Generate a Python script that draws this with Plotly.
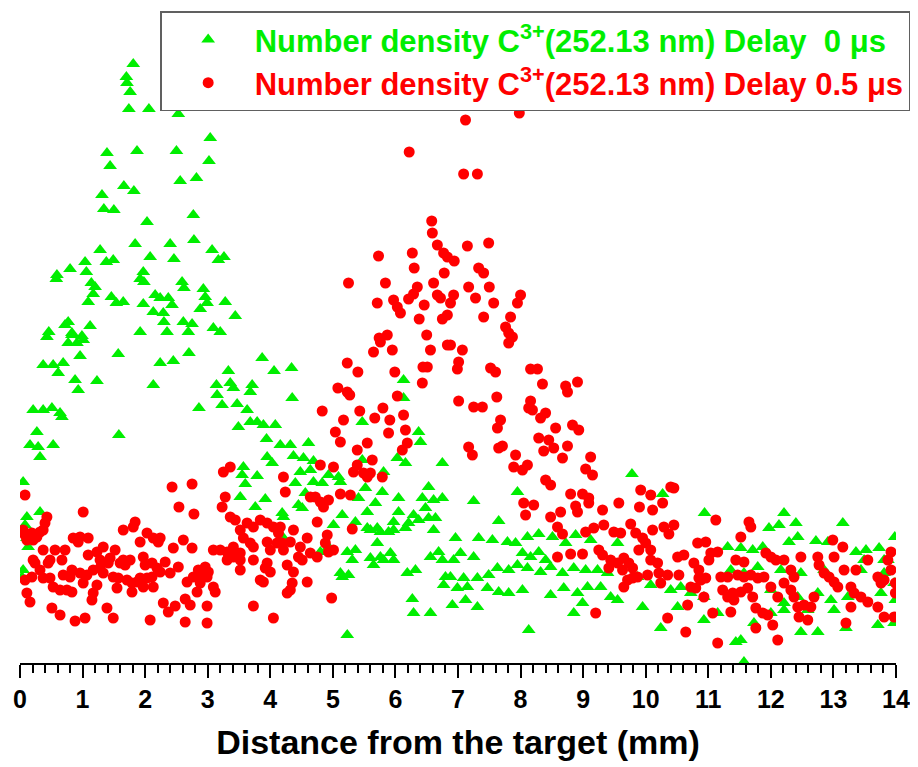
import plotly.graph_objects as go

# Distance from the target (mm) and number density (arb. units)
green_x = [1.81,1.70,1.71,1.76,1.74,2.06,2.53,3.04,1.39,1.87,2.50,3.02,1.44,2.56,2.82,1.66,1.82,1.31,1.34,1.50,
           2.77,2.03,2.78,1.84,2.40,1.28,3.07,2.08,2.46,1.49,1.38,3.26,3.17,1.04,0.80,0.59,0.58,1.06,1.97,1.92,
           1.98,2.59,2.62,1.14,1.20,2.93,1.17,1.09,1.46,1.54,1.65,2.16,2.24,2.37,2.43,1.97,2.13,2.29,2.30,2.96,
           2.99,2.88,3.28,3.44,2.61,2.75,3.09,3.20,0.77,0.72,1.12,0.46,0.83,0.99,1.92,2.35,2.69,
           0.43,0.83,0.77,0.91,1.01,1.57,0.96,0.37,0.53,0.69,0.61,2.24,2.45,2.70,3.87,4.06,4.34,3.33,0.88,0.93,
           1.23,2.13,3.14,3.36,3.41,3.71,3.68,3.15,3.23,3.47,3.63,4.35,2.86,0.21,0.37,0.51,0.64,0.67,3.68,3.79,
           3.89,4.08,3.49,0.27,0.16,0.29,0.32,0.53,1.58,3.94,4.16,4.32,4.61,3.95,4.03,4.37,4.53,4.69,3.57,3.55,
           3.79,4.48,4.64,4.93,5.09,0.05,3.60,3.52,4.40,4.69,4.83,5.12,3.92,3.76,4.56,4.45,4.51,5.47,6.13,6.13,
           6.37,6.40,6.03,6.16,5.47,5.81,6.75,5.52,5.41,5.79,6.05,6.43,6.61,6.75,6.53,5.68,5.55,6.05,6.48,6.29,
           5.15,5.36,5.01,4.19,4.21,5.97,5.89,5.97,6.21,6.37,6.53,6.64,5.55,5.71,5.76,5.60,6.16,6.61,0.11,0.32,
           0.08,0.13,0.11,0.05,0.03,5.23,5.36,5.31,5.12,5.25,5.15,5.60,5.71,5.76,5.81,5.92,5.97,5.65,6.56,6.69,
           6.75,6.19,6.32,6.80,6.77,6.27,6.29,6.56,5.23,4.80,4.93,4.21,
           9.78,7.95,7.25,10.27,7.65,10.94,12.21,13.15,11.97,12.13,12.40,13.98,6.96,7.33,7.55,7.79,7.92,8.11,8.29,8.51,
           8.72,8.88,9.12,9.55,7.04,7.25,6.93,8.03,8.16,8.29,8.40,11.31,11.52,11.71,11.87,12.29,12.43,12.72,12.91,13.36,
           13.52,13.73,13.87,6.88,7.09,7.31,7.49,7.63,7.81,7.95,8.11,8.32,8.48,8.67,8.85,9.04,9.23,9.39,6.99,7.15,
           7.47,7.65,7.81,8.03,8.69,8.48,8.91,9.07,9.28,9.44,9.55,6.91,7.12,7.31,8.99,8.85,9.95,10.24,8.13,9.87,
           10.08,10.40,10.56,10.72,10.93,10.51,10.93,11.15,11.52,11.73,12.00,12.21,12.43,12.75,12.96,13.23,12.48,12.75,13.20,13.71,
           13.97,11.36,11.57,11.79,12.16,12.48,12.85,13.44,13.81,13.97,13.76,13.99,13.49,13.81,12.00,12.21,12.59,13.01,11.44,11.57]
green_y = [59.9,58.6,58.0,57.1,55.4,55.4,54.9,52.5,51.0,51.2,51.2,50.2,49.7,48.2,48.5,47.7,47.2,46.8,45.4,45.3,
           44.8,44.1,42.3,41.9,41.9,41.3,41.3,40.6,40.4,40.3,40.1,40.6,40.3,40.1,39.4,38.8,38.4,39.1,39.1,38.4,
           38.1,38.1,37.5,38.0,37.6,37.4,36.9,36.1,36.6,36.0,36.1,36.8,36.5,36.5,35.8,35.9,35.1,35.0,34.1,36.6,
           36.0,35.4,36.1,34.7,34.1,33.9,33.5,33.1,34.1,33.8,33.7,33.1,33.0,32.7,33.1,33.1,33.1,
           32.6,32.8,32.0,32.0,32.3,30.9,30.7,29.8,29.8,30.0,29.0,30.0,30.2,31.0,30.5,29.2,29.5,29.2,28.3,27.3,
           28.2,27.8,27.8,28.0,27.5,27.8,27.1,26.8,25.8,25.9,25.3,26.5,25.5,25.3,25.3,25.5,25.0,24.6,24.1,24.1,
           23.8,23.8,23.6,23.1,21.8,21.6,20.6,21.8,22.8,22.4,21.8,21.8,22.0,20.6,20.0,20.7,20.5,20.2,19.6,18.8,
           18.7,19.1,19.3,18.8,18.6,18.1,17.9,16.6,18.0,18.1,18.0,18.1,16.4,15.6,17.0,15.8,15.5,24.1,28.3,26.5,
           23.1,22.1,20.5,20.0,20.3,19.1,20.0,17.5,16.5,17.1,16.5,16.5,16.3,16.5,17.6,16.0,15.1,15.1,15.5,14.8,
           14.8,14.1,13.8,15.0,14.6,14.1,13.1,13.3,14.0,14.3,14.5,14.5,13.5,13.5,13.1,13.3,13.5,13.3,14.6,15.1,
           13.8,11.6,12.5,9.3,8.6,11.1,11.3,10.3,9.0,8.8,8.6,10.5,12.0,10.6,10.3,11.0,10.3,9.8,10.6,11.1,
           10.3,9.0,9.3,8.6,7.8,6.4,5.0,5.0,2.8,11.1,11.6,12.5,
           18.9,17.1,16.2,16.9,14.2,15.0,15.0,14.0,13.5,13.8,14.0,12.6,12.5,12.5,12.3,12.1,12.0,12.6,12.9,12.6,
           12.0,12.8,12.3,12.0,11.0,10.6,10.3,11.0,10.6,11.1,10.3,11.6,11.5,11.3,11.6,12.1,12.6,12.2,12.1,11.1,
           11.3,11.5,10.3,8.6,8.5,8.5,8.8,9.5,9.3,9.8,9.5,9.1,9.6,9.0,9.5,9.3,9.3,9.0,7.5,7.6,
           7.5,7.1,7.0,7.3,7.5,6.8,7.0,7.6,7.6,6.6,6.3,5.8,6.3,5.6,6.0,5.0,5.6,3.5,3.3,8.6,
           7.8,7.3,7.6,7.0,6.6,5.6,4.3,5.0,2.3,4.0,7.3,6.0,6.6,7.0,6.3,6.6,3.1,3.1,3.5,3.8,
           4.0,9.3,9.0,9.6,9.3,9.0,9.3,9.3,9.0,8.0,7.0,6.3,10.3,10.3,5.0,5.3,5.3,5.3,2.1,0.1]

red_x = [7.12,7.98,6.22,7.09,7.31,6.58,6.59,6.67,6.77,6.83,6.94,7.15,7.49,5.73,6.27,6.30,6.78,7.33,7.41,5.25,
         5.84,6.61,7.17,7.50,6.35,6.29,6.21,6.67,6.72,6.93,6.88,7.28,7.57,8.00,7.95,5.71,5.97,6.03,6.08,6.46,
         6.38,6.83,6.75,7.41,7.84,7.76,7.81,7.87,5.87,5.74,6.50,
         7.81,6.88,7.07,7.01,6.99,7.52,7.60,8.16,8.27,8.35,8.72,8.75,8.91,7.62,7.01,7.25,7.39,8.16,8.13,8.19,
         8.40,8.32,7.68,7.63,8.56,8.83,8.93,8.29,8.45,8.53,8.37,7.71,7.65,7.17,7.23,8.75,8.67,7.92,7.89,8.03,
         8.11,9.12,9.04,9.15,8.40,8.48,8.80,8.99,9.09,8.88,8.91,9.09,9.31,8.05,8.21,8.08,8.48,8.64,8.59,8.67,
         9.57,9.92,10.08,10.40,10.45,9.90,10.11,10.27,9.04,9.17,9.33,9.76,9.84,9.95,10.00,9.89,10.08,9.49,9.60,10.11,
         10.29,10.37,10.45,9.25,9.31,9.44,9.55,9.65,9.73,9.79,9.87,8.59,8.80,8.99,9.41,9.63,9.65,9.71,9.79,10.03,
         10.21,10.08,10.19,10.35,10.24,10.53,10.51,10.61,10.77,10.85,10.85,10.83,10.96,11.12,11.04,11.15,11.01,10.72,10.80,10.93,
         10.88,10.96,11.20,11.31,11.47,11.57,11.23,11.39,11.52,11.63,11.31,11.41,11.36,11.44,11.57,11.52,11.65,11.68,11.07,10.67,
         10.64,10.35,9.20,11.15,11.68,11.79,11.89,11.71,11.76,11.87,11.95,11.76,11.92,12.00,12.08,12.21,12.00,12.11,12.21,12.32,
         12.37,12.32,12.37,12.03,12.11,12.43,12.53,12.64,12.45,12.59,12.48,12.69,12.75,12.77,12.85,12.93,13.01,13.07,12.99,13.15,
         13.01,13.17,13.28,13.33,13.28,13.20,13.36,13.44,13.55,13.55,13.71,13.76,13.81,13.71,13.87,13.92,13.92,13.81,13.97,13.99,
         13.99,
         5.76,5.65,5.95,6.56,6.83,5.23,5.40,5.99,6.44,6.43,6.51,5.08,5.23,5.27,6.03,4.83,5.43,5.80,5.67,5.91,
         6.13,6.16,5.89,5.17,5.04,5.12,5.55,5.39,6.19,6.11,5.63,5.39,5.33,5.49,5.55,5.60,5.79,4.80,5.01,4.21,
         3.36,3.25,4.24,5.12,5.28,4.64,4.72,4.80,4.93,3.28,3.23,3.36,3.44,2.43,2.75,2.54,2.78,0.08,1.01,4.85,
         4.75,4.37,5.31,4.91,4.88,5.01,4.93,4.59,4.48,4.45,4.51,4.64,4.75,4.32,4.21,3.63,3.73,3.84,3.95,4.05,
         4.16,4.13,3.52,3.57,3.68,3.73,3.95,4.00,4.11,4.19,3.09,3.20,3.31,3.41,3.52,3.31,3.41,3.52,3.73,3.95,
         3.92,4.00,3.89,3.84,3.52,4.27,4.37,4.35,4.32,4.27,4.59,4.05,3.73,4.98,0.43,0.40,0.37,0.05,0.19,0.21,
         0.27,0.11,0.08,0.32,0.37,0.21,0.24,0.19,0.08,0.11,0.16,0.56,0.72,0.67,0.48,0.45,0.96,0.85,1.09,0.93,
         1.09,1.23,1.33,1.28,1.44,1.52,1.60,1.65,1.76,1.65,1.84,1.81,1.92,2.03,2.13,2.21,2.24,2.45,2.61,2.75,
         1.97,2.00,2.11,2.19,2.24,2.32,2.40,2.53,0.32,0.37,0.48,0.53,0.64,0.75,0.83,0.69,0.80,0.83,0.96,1.01,
         1.07,1.17,1.28,1.33,1.41,1.49,1.57,1.68,1.71,1.23,1.17,1.15,1.55,1.79,1.79,1.87,1.92,2.03,2.11,2.13,
         1.97,2.67,2.77,2.85,2.91,2.96,3.01,2.99,2.88,2.88,3.09,3.12,2.83,0.51,0.64,0.88,1.04,1.49,1.39,2.08,
         2.29,2.37,2.48,2.64,2.64,2.72,2.99,2.99]
red_y = [54.3,55.0,51.1,48.9,48.9,44.2,43.0,41.8,41.0,40.6,40.2,41.7,42.0,40.7,41.0,39.5,39.0,39.5,39.0,38.0,
         38.0,38.0,37.6,37.6,37.6,36.9,36.4,36.8,36.5,36.8,36.0,36.5,36.0,36.8,36.0,36.0,36.3,35.6,35.0,35.8,
         34.4,34.8,34.4,34.6,34.6,33.6,33.0,32.6,32.8,32.5,32.8,
         32.0,31.8,31.3,30.1,29.4,29.5,29.1,29.4,29.4,27.9,27.7,27.1,28.1,26.6,26.2,25.6,25.6,26.2,25.5,25.3,
         25.0,24.5,24.3,23.5,23.5,23.8,23.3,22.5,22.3,21.5,21.2,21.7,21.5,21.6,20.8,21.7,20.5,20.8,19.6,19.3,
         19.8,20.6,19.4,18.8,18.3,17.8,16.9,16.9,16.5,15.7,15.1,16.0,15.3,16.0,15.8,14.8,14.6,15.1,13.6,12.9,
         16.0,17.3,16.8,17.6,17.5,15.6,15.3,16.0,13.1,13.5,13.8,13.9,13.0,12.5,12.0,11.3,11.3,13.1,13.0,13.3,
         13.6,12.9,13.8,11.3,10.8,10.3,10.0,10.5,10.0,9.5,8.6,10.6,10.9,10.9,9.5,9.3,7.6,8.3,8.5,8.8,
         9.0,10.3,10.0,8.8,8.0,8.8,10.6,10.8,10.0,9.3,8.5,12.0,12.1,14.3,11.0,11.1,10.3,7.6,7.5,6.6,
         8.3,8.5,8.6,8.6,8.8,8.6,7.3,7.0,7.1,7.5,6.6,6.3,5.1,10.3,10.1,12.6,14.1,13.6,5.0,5.8,
         3.1,4.5,5.0,2.0,8.8,8.5,8.6,6.6,5.5,5.0,4.8,3.5,11.0,10.6,10.3,10.3,7.6,6.6,8.0,7.3,
         6.6,9.3,8.6,3.8,2.3,5.6,5.8,5.6,4.6,4.3,10.6,6.6,10.6,9.8,9.0,8.6,8.1,7.6,12.3,11.6,
         10.6,9.3,7.6,7.0,5.6,4.0,9.3,6.6,6.1,10.3,8.6,8.0,8.3,5.6,10.3,11.1,9.3,4.6,4.6,8.0,
         7.0,
         32.1,31.1,31.3,31.3,31.8,30.0,29.1,29.1,29.6,28.0,29.6,27.5,27.1,26.8,26.7,25.2,25.2,25.5,24.5,24.3,
         24.8,23.3,23.0,24.3,23.1,22.1,22.0,21.3,22.0,21.3,20.3,19.8,19.1,19.0,18.6,19.0,18.6,19.8,19.6,18.6,
         19.6,19.1,17.1,16.9,16.8,16.6,16.6,16.1,16.3,16.6,15.6,14.6,14.3,17.6,17.9,15.6,14.9,16.8,15.1,15.6,
         14.1,13.3,13.4,12.8,12.0,11.3,11.1,12.5,11.6,10.6,10.3,11.0,10.6,12.1,11.3,14.0,13.6,14.3,14.0,13.6,
         13.6,13.0,13.3,12.5,12.0,11.6,12.1,11.3,12.0,12.0,11.3,11.3,11.1,11.6,11.0,10.3,10.6,10.3,10.3,10.0,
         9.5,9.1,8.1,8.3,9.3,9.8,9.1,8.0,7.3,7.0,8.1,4.5,5.7,6.5,14.6,14.0,13.3,13.3,13.0,12.3,
         12.6,12.3,12.8,13.1,11.3,10.3,10.0,8.6,8.3,7.0,6.1,11.3,11.3,10.3,10.3,10.0,12.6,12.5,12.5,12.1,
         10.8,11.1,11.6,10.3,10.5,11.3,10.0,10.3,10.3,13.3,14.1,13.6,12.1,13.0,12.5,12.1,12.5,11.5,12.3,11.5,
         10.6,9.8,10.0,9.5,9.1,10.1,9.0,9.6,9.3,8.5,8.5,7.6,7.3,7.3,7.1,8.8,8.6,9.3,9.0,8.0,
         8.8,9.3,9.5,9.0,10.0,8.6,8.5,9.8,8.3,7.8,7.0,6.3,7.5,8.0,7.1,8.1,8.5,8.5,8.6,7.6,
         7.6,8.1,8.6,9.3,9.0,9.6,9.1,8.6,8.5,8.0,7.6,7.1,7.1,5.5,4.8,4.2,4.5,4.5,5.5,4.3,
         6.0,5.1,5.7,4.1,6.4,5.8,4.0,5.7]

x_tickvals = list(range(0, 15))
x_ticktext = [str(v) for v in x_tickvals]

green_name = ("<span style='color:#00ee00'>Number density C<sup>3+</sup>(252.13 nm) Delay\u00a0\u00a00 \u03bcs</span>")
red_name = ("<span style='color:#ff0000'>Number density C<sup>3+</sup>(252.13 nm) Delay 0.5 \u03bcs</span>")

fig = go.Figure()
fig.add_trace(go.Scatter(x=green_x, y=green_y, mode="markers", name=green_name,
                         marker=dict(symbol="triangle-up", size=12, color="#00ee00", line=dict(width=0))))
fig.add_trace(go.Scatter(x=red_x, y=red_y, mode="markers", name=red_name,
                         marker=dict(symbol="circle", size=11, color="#ff0000", line=dict(width=0))))

font_fam = "Liberation Sans, Arial, sans-serif"
fig.update_layout(
    width=918, height=767,
    margin=dict(l=12, r=30, t=0, b=112, autoexpand=False),
    paper_bgcolor="white", plot_bgcolor="white",
    font=dict(family=font_fam, color="black"),
    showlegend=True,
    legend=dict(x=0.16, y=0.995, xanchor="left", yanchor="top",
                bordercolor="#606060", borderwidth=1.5, bgcolor="white",
                font=dict(size=31, family=font_fam, weight="bold"),
                itemwidth=83),
    xaxis=dict(range=[0, 14], tickvals=x_tickvals, ticktext=x_ticktext,
               showline=True, linecolor="black", linewidth=2,
               ticks="outside", ticklen=13, tickwidth=2, tickcolor="black",
               minor=dict(dtick=0.2, ticks="outside", ticklen=8, tickwidth=1.5, tickcolor="black"),
               showgrid=False, zeroline=False, automargin=False,
               tickfont=dict(size=25, family=font_fam, weight="bold"),
               title=dict(text="Distance from the target (mm)", standoff=18,
                          font=dict(size=34, family=font_fam, weight="bold"))),
    yaxis=dict(visible=False, range=[0, 65.5], showgrid=False, zeroline=False),
)

fig.write_html("out.html")
